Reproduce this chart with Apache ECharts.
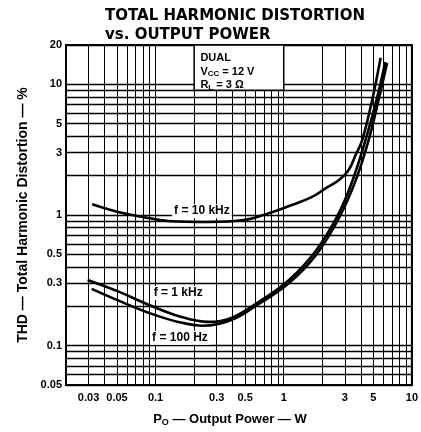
<!DOCTYPE html>
<html><head><meta charset="utf-8">
<script src="https://cdn.jsdelivr.net/npm/echarts@6/dist/echarts.min.js"></script>
<style>html,body{margin:0;padding:0;background:#fff}#c{width:421px;height:432px}</style>
</head><body><div id="c"></div>
<script>
// Tick labels
const xTickLabels = [0.03, 0.05, 0.1, 0.3, 0.5, 1, 3, 5, 10];
const yTickLabels = [0.05, 0.1, 0.3, 0.5, 1, 3, 5, 10, 20];
// Grid lines (log decades)
const xGrid = [0.02,0.03,0.04,0.05,0.06,0.07,0.08,0.09,0.1,0.2,0.3,0.4,0.5,0.6,0.7,0.8,0.9,1,2,3,4,5,6,7,8,9,10];
const yGrid = [0.05,0.06,0.07,0.08,0.09,0.1,0.2,0.3,0.4,0.5,0.6,0.7,0.8,0.9,1,2,3,4,5,6,7,8,9,10,20];
// Series: output power (W) and THD (%)
const p10k = [0.032,0.052,0.078,0.126,0.26,0.49,0.74,1.1,1.65,2.15,2.7,3.2,3.65,4.1,4.9,5.7];
const t10k = [1.21,1.05,0.97,0.9,0.885,0.915,1.02,1.17,1.37,1.61,1.85,2.2,2.9,3.75,7.6,16];
const p1k  = [0.0295,0.052,0.089,0.15,0.26,0.39,0.62,1.1,1.8,2.7,3.45,4.35,5.3,6.2];
const t1k  = [0.318,0.258,0.205,0.169,0.152,0.163,0.212,0.318,0.54,1.04,1.85,3.75,7.6,14.8];
const p100 = [0.0317,0.052,0.089,0.15,0.235,0.39,0.62,1.1,1.8,2.7,3.65,4.6,5.5,6.4];
const t100 = [0.272,0.22,0.178,0.152,0.142,0.157,0.205,0.302,0.50,0.95,1.85,3.75,7.6,14.6];

const zip = (a, b) => a.map((v, i) => [v, b[i]]);
const FONT = 'Liberation Sans';
const fmt = v => String(+(+v).toPrecision(2));

const chart = echarts.init(document.getElementById('c'), null, {renderer: 'canvas'});
const lbl = (text, coord) => ({
  coord, symbolSize: 0,
  label: {show: true, position: 'inside', formatter: text, color: '#000', fontFamily: FONT,
          fontWeight: 'bold', fontSize: 12, backgroundColor: '#fff', padding: [1, 2]}
});
const lineStyle = {color: '#000', width: 2.6};
chart.setOption({
  animation: false,
  backgroundColor: '#fff',
  title: {
    text: 'TOTAL HARMONIC DISTORTION\nvs. OUTPUT POWER',
    left: 105, top: 7, padding: 0,
    textStyle: {fontFamily: 'DejaVu Sans', fontWeight: 'bold', fontSize: 15, color: '#000', lineHeight: 19}
  },
  grid: {left: 66, right: 5, top: 45, bottom: 47, show: true, borderColor: '#000', borderWidth: 2, backgroundColor: '#fff'},
  xAxis: {
    type: 'log', logBase: 10, min: 0.02, max: 10,
    name: 'P{s|O} — Output Power — W', nameLocation: 'middle', nameGap: 27,
    nameTextStyle: {fontFamily: FONT, fontWeight: 'bold', fontSize: 13, color: '#000', padding: [0, 18, 0, 0],
      rich: {s: {fontFamily: FONT, fontWeight: 'bold', fontSize: 9, verticalAlign: 'bottom', padding: [6, 0, 0, 0]}}},
    axisLine: {show: false},
    axisTick: {show: false, customValues: xGrid},
    axisLabel: {customValues: xTickLabels, formatter: fmt, color: '#000', fontFamily: FONT, fontWeight: 'bold', fontSize: 11, margin: 7},
    splitLine: {show: true, lineStyle: {color: '#000', width: 1}}
  },
  yAxis: {
    type: 'log', logBase: 10, min: 0.05, max: 20,
    name: 'THD — Total Harmonic Distortion — %', nameLocation: 'middle', nameGap: 34, nameRotate: 90,
    nameTextStyle: {fontFamily: FONT, fontWeight: 'bold', fontSize: 14, color: '#000'},
    axisLine: {show: false},
    axisTick: {show: false, customValues: yGrid},
    axisLabel: {customValues: yTickLabels, formatter: fmt, color: '#000', fontFamily: FONT, fontWeight: 'bold', fontSize: 11, margin: 4},
    splitLine: {show: true, lineStyle: {color: '#000', width: 1.4}}
  },
  series: [
    {
      name: 'f = 10 kHz', type: 'line', smooth: 0.4, showSymbol: false, data: zip(p10k, t10k), lineStyle, z: 5,
      markArea: {
        silent: true,
        itemStyle: {color: '#fff', borderColor: '#000', borderWidth: 1.5},
        label: {show: true, position: 'insideTopLeft', distance: 7, color: '#000', fontFamily: FONT, fontWeight: 'bold', fontSize: 11, lineHeight: 13.5,
          formatter: 'DUAL\nV{s|CC} = 12 V\nR{s|L} = 3 Ω',
          rich: {s: {fontFamily: FONT, fontWeight: 'bold', fontSize: 8, verticalAlign: 'bottom', padding: [5, 0, 0, 0]}}},
        data: [[{xAxis: 0.2, yAxis: 9}, {xAxis: 1, yAxis: 20}]]
      },
      markPoint: {symbol: 'rect', data: [lbl('f = 10 kHz', [0.23, 1.07])]}
    },
    {name: 'f = 1 kHz', type: 'line', smooth: 0.4, showSymbol: false, data: zip(p1k, t1k), lineStyle, z: 5,
      markPoint: {symbol: 'rect', data: [lbl('f = 1 kHz', [0.15, 0.253])]}},
    {name: 'f = 100 Hz', type: 'line', smooth: 0.4, showSymbol: false, data: zip(p100, t100), lineStyle, z: 5,
      markPoint: {symbol: 'rect', data: [lbl('f = 100 Hz', [0.155, 0.115])]}}
  ]
});
</script></body></html>
